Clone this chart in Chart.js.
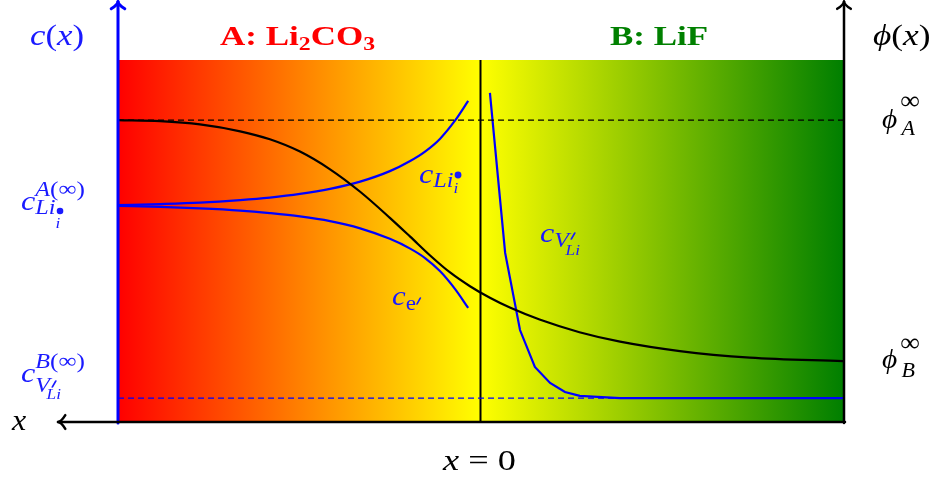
<!DOCTYPE html>
<html>
<head>
<meta charset="utf-8">
<script src="https://cdn.jsdelivr.net/npm/chart.js@4.4.1/dist/chart.umd.min.js"></script>
<style>
  body { margin: 0; background: #fff; }
</style>
</head>
<body>
<canvas id="chart" width="935" height="477"></canvas>
<script>
// Positions along x (x = 0 is the interface, phase A on the left, axis points left)
// Potential phi(x)
const phiX = [10, 8.84, 7.74, 6.63, 5.81, 4.98, 4.15, 3.32, 2.50, 1.94, 1.39, 0.84, 0.29, -0.26, -0.81, -1.63, -2.73, -3.85, -5.50, -7.43, -10];
const phiY = [8.34, 8.31, 8.22, 8.03, 7.81, 7.47, 6.98, 6.36, 5.64, 5.12, 4.60, 4.13, 3.75, 3.43, 3.16, 2.83, 2.48, 2.22, 1.96, 1.78, 1.68];

// positions shared by the two phase A concentrations
const cAX = [10, 8.84, 7.74, 6.63, 5.81, 4.98, 4.15, 3.32, 2.50, 1.94, 1.53, 1.12, 0.70, 0.34];
// Li interstitial concentration in phase A
const liY = [5.99, 6.02, 6.06, 6.13, 6.20, 6.30, 6.44, 6.64, 6.93, 7.21, 7.47, 7.82, 8.33, 8.87];
// electron concentration in phase A
const eY = [5.97, 5.94, 5.90, 5.84, 5.77, 5.68, 5.55, 5.35, 5.06, 4.79, 4.53, 4.17, 3.67, 3.15];

// Li vacancy concentration in phase B
const vX = [-0.26, -0.68, -1.09, -1.50, -1.92, -2.33, -2.74, -3.85, -10];
const vY = [9.09, 4.67, 2.54, 1.52, 1.08, 0.83, 0.72, 0.66, 0.66];

// bulk levels
const phiA = 8.34;
const cVB = 0.66;

const pts = (xs, ys) => xs.map((x, i) => ({ x: x, y: ys[i] }));

const SERIF = '"Liberation Serif", "DejaVu Serif", serif';

// draws text with sub/superscripts, parts are drawn one after another
function rich(ctx, x, y, color, parts, sx) {
    let cx = 0;
    const marks = [];
    ctx.save();
    ctx.translate(x, y);
    ctx.scale(sx || 1, 1);
    ctx.fillStyle = color;
    ctx.strokeStyle = color;
    ctx.textBaseline = 'alphabetic';
    ctx.textAlign = 'left';
    parts.forEach(p => {
        if (p.mark) { marks.push(cx); return; }
        if (p.back) { cx = marks.pop(); return; }
        if (p.dot) {
            ctx.beginPath();
            ctx.ellipse(cx + (p.dx || 0), p.dy, p.dot / (sx || 1), p.dot, 0, 0, Math.PI * 2);
            ctx.fill();
            return;
        }
        if (p.prime) {
            // prime drawn as a short slanted stroke
            const px = cx + (p.dx || 0);
            ctx.lineWidth = 1.6;
            ctx.lineCap = 'round';
            ctx.beginPath();
            ctx.moveTo(px + 3, p.dy - p.prime);
            ctx.lineTo(px, p.dy);
            ctx.stroke();
            cx = px + 4;
            return;
        }
        ctx.font = (p.i ? 'italic ' : '') + (p.b ? 'bold ' : '') + p.s + 'px ' + SERIF;
        ctx.fillText(p.t, cx + (p.dx || 0), p.dy || 0);
        cx += ctx.measureText(p.t).width + (p.dx || 0);
    });
    ctx.restore();
}

function arrow(ctx, x1, y1, x2, y2, color, w) {
    const a = Math.atan2(y2 - y1, x2 - x1);
    const L = 10, spread = 0.75;
    ctx.save();
    ctx.strokeStyle = color;
    ctx.lineWidth = w;
    ctx.lineCap = 'round';
    ctx.lineJoin = 'round';
    ctx.beginPath();
    ctx.moveTo(x1, y1);
    ctx.lineTo(x2, y2);
    ctx.stroke();
    ctx.beginPath();
    ctx.moveTo(x2 - L * Math.cos(a - spread), y2 - L * Math.sin(a - spread));
    ctx.quadraticCurveTo(x2 - 3 * Math.cos(a), y2 - 3 * Math.sin(a), x2, y2);
    ctx.quadraticCurveTo(x2 - 3 * Math.cos(a), y2 - 3 * Math.sin(a), x2 - L * Math.cos(a + spread), y2 - L * Math.sin(a + spread));
    ctx.stroke();
    ctx.restore();
}

// red -> yellow for phase A, yellow -> green for phase B
const backgroundPlugin = {
    id: 'phases',
    beforeDatasetsDraw(chart) {
        const { ctx, chartArea: a, scales } = chart;
        const x0 = scales.x.getPixelForValue(0);
        let g = ctx.createLinearGradient(a.left, 0, x0, 0);
        g.addColorStop(0, '#ff0000');
        g.addColorStop(1, '#ffff00');
        ctx.fillStyle = g;
        ctx.fillRect(a.left, a.top, x0 - a.left, a.bottom - a.top);
        g = ctx.createLinearGradient(x0, 0, a.right, 0);
        g.addColorStop(0, '#ffff00');
        g.addColorStop(1, '#007f00');
        ctx.fillStyle = g;
        ctx.fillRect(x0, a.top, a.right - x0, a.bottom - a.top);
    }
};

const labelPlugin = {
    id: 'labels',
    afterDraw(chart) {
        const { ctx, chartArea: a } = chart;
        ctx.save();
        // axes
        arrow(ctx, a.left, a.bottom + 1, a.left, 1.5, '#0000ff', 3);
        arrow(ctx, a.right + 1, a.bottom + 1, a.right + 1, 1.5, '#000', 2.5);
        arrow(ctx, a.right + 2, a.bottom, 58, a.bottom, '#000', 2.5);

        const blue = '#1a1aff';
        // titles
        rich(ctx, 30, 45, blue, [{ t: 'c', s: 29, i: 1 }, { t: '(', s: 29 }, { t: 'x', s: 29, i: 1 }, { t: ')', s: 29 }], 1.2);
        rich(ctx, 220, 45, '#ff0000', [{ t: 'A: Li', s: 28, b: 1 }, { t: '2', s: 19, b: 1, dy: 5 }, { t: 'CO', s: 28, b: 1 }, { t: '3', s: 19, b: 1, dy: 5 }], 1.25);
        rich(ctx, 610, 45, '#008000', [{ t: 'B: LiF', s: 28, b: 1 }], 1.25);
        rich(ctx, 873, 45, '#000', [{ t: 'ϕ', s: 29, i: 1 }, { t: '(', s: 29 }, { t: 'x', s: 29, i: 1 }, { t: ')', s: 29 }], 1.22);

        // right side levels
        rich(ctx, 882, 128, '#000', [{ t: 'ϕ', s: 28, i: 1 }, { mark: 1 }, { t: '∞', s: 26, dy: -19, dx: 3 }, { back: 1 }, { t: 'A', s: 21, i: 1, dy: 7, dx: 4 }], 1.05);
        rich(ctx, 882, 368, '#000', [{ t: 'ϕ', s: 28, i: 1 }, { mark: 1 }, { t: '∞', s: 26, dy: -17, dx: 3 }, { back: 1 }, { t: 'B', s: 21, i: 1, dy: 9, dx: 4 }], 1.05);

        // left side bulk concentrations
        rich(ctx, 21, 210, blue, [
            { t: 'c', s: 28, i: 1 }, { mark: 1 },
            { t: 'A', s: 21, i: 1, dy: -14 }, { t: '(∞)', s: 22, dy: -14 }, { back: 1 },
            { t: 'Li', s: 21, i: 1, dy: 4 }, { mark: 1 }, { dot: 3.3, dy: 1, dx: 4 }, { back: 1 },
            { t: 'i', s: 15, i: 1, dy: 18 }
        ], 1.15);
        rich(ctx, 21, 382, blue, [
            { t: 'c', s: 28, i: 1 }, { mark: 1 },
            { t: 'B', s: 21, i: 1, dy: -14 }, { t: '(∞)', s: 22, dy: -14 }, { back: 1 },
            { t: 'V', s: 21, i: 1, dy: 10 }, { mark: 1 }, { prime: 6, dy: 5, dx: 2 }, { back: 1 },
            { t: 'Li', s: 15, i: 1, dy: 17, dx: -3 }
        ], 1.15);
        rich(ctx, 12, 430, '#000', [{ t: 'x', s: 29, i: 1 }], 1.1);

        // curve labels
        rich(ctx, 419, 183, blue, [
            { t: 'c', s: 28, i: 1 }, { t: 'Li', s: 21, i: 1, dy: 4 }, { mark: 1 },
            { dot: 3.4, dy: -8, dx: 4 }, { back: 1 }, { t: 'i', s: 15, i: 1, dy: 10 }
        ], 1.15);
        rich(ctx, 540, 242, blue, [
            { t: 'c', s: 28, i: 1 }, { t: 'V', s: 21, i: 1, dy: 5 }, { mark: 1 },
            { prime: 6, dy: -3, dx: 2 }, { back: 1 }, { t: 'Li', s: 15, i: 1, dy: 13, dx: -3 }
        ], 1.15);
        rich(ctx, 392, 305, blue, [{ t: 'c', s: 28, i: 1 }, { t: 'e', s: 21, dy: 5 }, { prime: 6, dy: -1, dx: 1 }], 1.1);

        // interface
        rich(ctx, 443, 470, '#000', [{ t: 'x', s: 29, i: 1 }, { t: ' = 0', s: 29 }], 1.25);
        ctx.restore();
    }
};

const ctx = document.getElementById('chart').getContext('2d');
const chart = new Chart(ctx, {
    type: 'line',
    data: {
        datasets: [
            { data: [{ x: 10, y: phiA }, { x: -10, y: phiA }], borderColor: '#000', borderWidth: 1.2, borderDash: [6, 4] },
            { data: [{ x: 10, y: cVB }, { x: -10, y: cVB }], borderColor: '#0000ff', borderWidth: 1.2, borderDash: [6, 4] },
            { data: [{ x: 0, y: 0 }, { x: 0, y: 10 }], borderColor: '#000', borderWidth: 2 },
            { data: pts(phiX, phiY), borderColor: '#000', borderWidth: 2.2, cubicInterpolationMode: 'monotone' },
            { data: pts(cAX, liY), borderColor: '#0000ff', borderWidth: 2.2, cubicInterpolationMode: 'monotone' },
            { data: pts(cAX, eY), borderColor: '#0000ff', borderWidth: 2.2, cubicInterpolationMode: 'monotone' },
            { data: pts(vX, vY), borderColor: '#0000ff', borderWidth: 2.2, tension: 0 }
        ]
    },
    options: {
        responsive: false,
        animation: false,
        devicePixelRatio: 1,
        layout: { padding: { left: 118, right: 92, top: 60, bottom: 55 } },
        elements: { point: { radius: 0 } },
        plugins: { legend: { display: false }, tooltip: { enabled: false } },
        scales: {
            x: { type: 'linear', min: -10, max: 10, reverse: true, display: false },
            y: { type: 'linear', min: 0, max: 10, display: false }
        }
    },
    plugins: [backgroundPlugin, labelPlugin]
});
</script>
</body>
</html>
